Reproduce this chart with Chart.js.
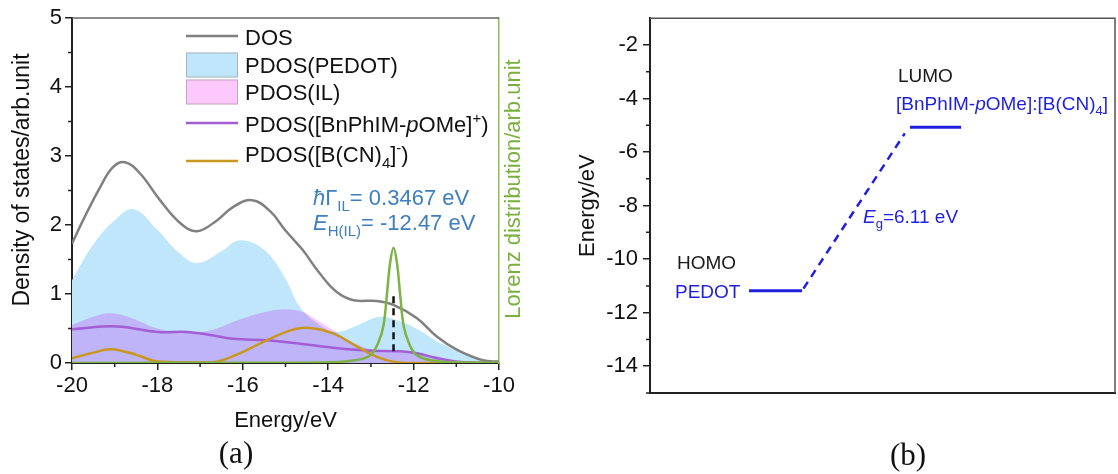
<!DOCTYPE html>
<html><head><meta charset="utf-8">
<script src="https://cdn.jsdelivr.net/npm/chart.js@4.4.1/dist/chart.umd.min.js"></script>
<style>
html,body{margin:0;padding:0;background:#fff;width:1118px;height:474px;overflow:hidden}
.w{position:absolute;top:0;height:474px}
.lab{position:absolute;font-family:"Liberation Serif","Times New Roman",serif;font-size:31px;color:#111;transform:translate(-50%,-50%);white-space:nowrap}
</style></head><body>
<div class="w" style="left:0;width:560px"><canvas id="ca"></canvas></div>
<div class="w" style="left:560px;width:558px"><canvas id="cb"></canvas></div>
<div class="lab" style="left:236px;top:453px">(a)</div>
<div class="lab" style="left:908px;top:455px">(b)</div>
<script>
// ---------- Panel (a) data ----------
const dosE = [-20, -19.74, -19.34, -19.04, -18.76, -18.41, -17.94, -17.47, -17.07, -16.6, -16.23, -15.78, -15.36, -15.0, -14.6, -14.2, -13.8, -13.4, -12.86, -12.46, -11.92, -11.45, -10.98, -10.38, -10];
const dosY = [1.73, 2.07, 2.55, 2.84, 2.91, 2.75, 2.36, 2.03, 1.91, 2.07, 2.26, 2.36, 2.2, 1.92, 1.64, 1.3, 1.03, 0.91, 0.90, 0.84, 0.65, 0.38, 0.19, 0.04, 0.02];
const pedotE = [-20, -19.5, -19.0, -18.55, -18.0, -17.5, -17.07, -16.5, -16.07, -15.5, -15.0, -14.66, -14.2, -13.8, -13.3, -12.79, -12.3, -11.8, -11.38, -10.68, -10.3, -10];
const pedotY = [1.2, 1.72, 2.07, 2.23, 1.93, 1.6, 1.45, 1.62, 1.78, 1.64, 1.22, 0.81, 0.55, 0.45, 0.55, 0.67, 0.6, 0.45, 0.29, 0.12, 0.04, 0.02];
const ilE = [-20, -19.5, -19.1, -18.6, -18, -17.5, -17, -16.6, -16.2, -15.6, -15.05, -14.6, -14.26, -13.89, -13.5, -13, -12.5, -12, -11.5, -11, -10.5, -10];
const ilY = [0.55, 0.67, 0.72, 0.65, 0.5, 0.46, 0.45, 0.5, 0.6, 0.72, 0.78, 0.74, 0.62, 0.48, 0.32, 0.2, 0.17, 0.15, 0.1, 0.04, 0.01, 0];
const catE = [-20, -18.95, -18, -17.3, -16.8, -16.23, -15.43, -14.66, -13.89, -13.1, -12.32, -11.92, -11.45, -10.98, -10.5, -10];
const catY = [0.49, 0.53, 0.45, 0.45, 0.41, 0.35, 0.33, 0.28, 0.22, 0.18, 0.17, 0.14, 0.07, 0.02, 0.005, 0];
const anE = [-20, -19.5, -19.1, -18.5, -18, -17, -16.6, -16.07, -15.43, -14.9, -14.5, -13.89, -13.33, -12.86, -12.48, -12, -10];
const anY = [0.07, 0.15, 0.2, 0.12, 0.02, 0.01, 0.02, 0.14, 0.33, 0.47, 0.51, 0.43, 0.24, 0.09, 0.02, 0, 0];
const lzE = [-20, -15, -14, -13.5, -13.2, -13.0, -12.83, -12.71, -12.63, -12.55, -12.47, -12.39, -12.31, -12.23, -12.11, -11.94, -11.6, -11.0, -10];
const lzY = [0, 0.005, 0.01, 0.03, 0.06, 0.12, 0.29, 0.53, 0.96, 1.45, 1.67, 1.45, 0.96, 0.53, 0.29, 0.12, 0.04, 0.01, 0.005];
const markE = [-12.47, -12.47];
const markY = [0.17, 1.0];
const aXTicks = [-20, -18, -16, -14, -12, -10];
const aXMinor = [-19, -17, -15, -13, -11];
const aYTicks = [0, 1, 2, 3, 4, 5];
const aYMinor = [0.5, 1.5, 2.5, 3.5, 4.5];

// ---------- Panel (b) data ----------
const homoX = [2.13, 3.27], homoY = [-11.18, -11.18];
const lumoX = [5.59, 6.69], lumoY = [-5.07, -5.07];
const gapX = [3.3, 5.48], gapY = [-11.1, -5.3];
const bYTicks = [-14, -12, -10, -8, -6, -4, -2];
const bYMinor = [-15, -13, -11, -9, -7, -5, -3];

const FONT = '"Liberation Sans", Arial, sans-serif';
const C = {dos:'#808080', pedot:'#c0e6fb', il:'#fdc8fb', cat:'#a35ed6', an:'#c9961e', lz:'#7cb342', note:'#3d7fbf', blue:'#1f1fe0', ink:'#111111'};

const pts = (xs, ys) => xs.map((x, i) => ({x, y: ys[i]}));

function rich(ctx, x, y, segs, size, color) {
  ctx.save(); ctx.fillStyle = color; ctx.textBaseline = 'alphabetic'; ctx.textAlign = 'left';
  for (const s of segs) {
    const sz = (s.sub || s.sup) ? Math.round(size * 0.68) : size;
    ctx.font = (s.it ? 'italic ' : '') + sz + 'px ' + FONT;
    const dy = s.sub ? size * 0.27 : (s.sup ? -size * 0.42 : 0);
    ctx.fillText(s.t, x, y + dy);
    x += ctx.measureText(s.t).width;
  }
  ctx.restore();
}
function minor(chart, id, vals, len) {
  const sc = chart.scales[id], a = chart.chartArea, ctx = chart.ctx;
  ctx.save(); ctx.strokeStyle = '#222'; ctx.lineWidth = 1.5; ctx.beginPath();
  vals.forEach(v => { const p = sc.getPixelForValue(v);
    if (sc.isHorizontal()) { ctx.moveTo(p, a.bottom); ctx.lineTo(p, a.bottom + len); }
    else { ctx.moveTo(a.left, p); ctx.lineTo(a.left - len, p); } });
  ctx.stroke(); ctx.restore();
}
function vtitle(ctx, x, y, text, size, color) {
  ctx.save();
  ctx.translate(x, y); ctx.rotate(-Math.PI / 2);
  ctx.fillStyle = color; ctx.font = size + 'px ' + FONT; ctx.textAlign = 'center'; ctx.textBaseline = 'middle';
  ctx.fillText(text, 0, 0);
  ctx.restore();
}

const legendItems = [
  {kind:'line', color:C.dos, segs:[{t:'DOS'}]},
  {kind:'box', color:C.pedot, segs:[{t:'PDOS(PEDOT)'}]},
  {kind:'box', color:C.il, segs:[{t:'PDOS(IL)'}]},
  {kind:'line', color:C.cat, segs:[{t:'PDOS([BnPhIM-'},{t:'p',it:true},{t:'OMe]'},{t:'+',sup:true},{t:')'}]},
  {kind:'line', color:C.an, segs:[{t:'PDOS([B(CN)'},{t:'4',sub:true},{t:']'},{t:'-',sup:true},{t:')'}]}
];
const legRows = [{base:45, mark:36}, {base:73, mark:65}, {base:100, mark:92}, {base:132, mark:123}, {base:162, mark:161}];

const IDX_PEDOT = 0, IDX_IL = 1;
const panelA = {
  id:'panelA',
  afterDatasetDraw(chart, args) {
    if (args.index === IDX_PEDOT) chart.ctx.globalCompositeOperation = 'multiply';
    if (args.index === IDX_IL) chart.ctx.globalCompositeOperation = 'source-over';
  },
  afterDraw(chart) {
    const ctx = chart.ctx, a = chart.chartArea;
    ctx.save();
    ctx.globalCompositeOperation = 'source-over';
    ctx.strokeStyle = '#666'; ctx.lineWidth = 1.5;
    ctx.beginPath(); ctx.moveTo(a.left, a.top); ctx.lineTo(a.right, a.top); ctx.stroke();
    ctx.restore();
    minor(chart, 'x', aXMinor, 4);
    minor(chart, 'y', aYMinor, 4);
    legendItems.forEach((it, i) => {
      const r = legRows[i];
      ctx.save();
      if (it.kind === 'line') {
        ctx.strokeStyle = it.color; ctx.lineWidth = 2.5;
        ctx.beginPath(); ctx.moveTo(186, r.mark); ctx.lineTo(238, r.mark); ctx.stroke();
      } else {
        ctx.fillStyle = it.color; ctx.fillRect(186, r.mark - 12.5, 52, 25);
        ctx.strokeStyle = 'rgba(150,150,150,0.6)'; ctx.lineWidth = 1;
        ctx.strokeRect(186.5, r.mark - 12, 51, 24);
      }
      ctx.restore();
      rich(ctx, 245, r.base, it.segs, 22, C.ink);
    });
    rich(ctx, 313, 205, [{t:'\u0127',it:true},{t:'\u0393'},{t:'IL',sub:true},{t:'= 0.3467 eV'}], 22, C.note);
    rich(ctx, 313, 230, [{t:'E',it:true},{t:'H(IL)',sub:true},{t:'= -12.47 eV'}], 22, C.note);
    vtitle(ctx, 23, 180, 'Density of states/arb.unit', 23, C.ink);
    vtitle(ctx, 514, 189, 'Lorenz distribution/arb.unit', 22, '#77b03c');
  }
};

const tickFont = {size:22, family:FONT};
const curve = {pointRadius:0, tension:0.4, cubicInterpolationMode:'default'};
new Chart(document.getElementById('ca'), {
  type:'line',
  data:{datasets:[
    Object.assign({label:'PDOS(PEDOT)', data:pts(pedotE, pedotY), fill:'origin', backgroundColor:C.pedot, borderWidth:0, order:10}, curve),
    Object.assign({label:'PDOS(IL)', data:pts(ilE, ilY), fill:'origin', backgroundColor:C.il, borderWidth:0, order:9}, curve),
    Object.assign({label:'cation', data:pts(catE, catY), fill:false, borderColor:C.cat, borderWidth:2.5, order:8}, curve),
    Object.assign({label:'anion', data:pts(anE, anY), fill:false, borderColor:C.an, borderWidth:2.5, order:7}, curve),
    Object.assign({label:'DOS', data:pts(dosE, dosY), fill:false, borderColor:C.dos, borderWidth:2.5, order:6}, curve),
    Object.assign({label:'Lorentz', data:pts(lzE, lzY), yAxisID:'y2', fill:false, borderColor:C.lz, borderWidth:2.5, order:5}, curve),
    {label:'mark', data:pts(markE, markY), fill:false, borderColor:'#111', borderWidth:2.5, borderDash:[7,5], pointRadius:0, order:4}
  ]},
  options:{
    responsive:true, maintainAspectRatio:false, animation:false, devicePixelRatio:1,
    layout:{padding:{top:18, right:0, left:0, bottom:0}},
    plugins:{legend:{display:false}, tooltip:{enabled:false}},
    scales:{
      x:{type:'linear', min:-20, max:-10,
        afterBuildTicks:s=>{s.ticks = aXTicks.map(v=>({value:v}));},
        afterFit:s=>{s.height = 111;},
        ticks:{font:tickFont, color:C.ink, padding:3, maxRotation:0},
        grid:{display:true, drawOnChartArea:false, tickLength:7, color:'#222', lineWidth:1.5},
        border:{display:true, color:'#222', width:2},
        title:{display:true, text:'Energy/eV', font:tickFont, color:C.ink, padding:{top:0, bottom:40}}},
      y:{type:'linear', min:0, max:5, position:'left',
        afterBuildTicks:s=>{s.ticks = aYTicks.map(v=>({value:v}));},
        afterFit:s=>{s.width = 72;},
        ticks:{font:tickFont, color:C.ink, padding:3},
        grid:{display:true, drawOnChartArea:false, tickLength:7, color:'#222', lineWidth:1.5},
        border:{display:true, color:'#222', width:2},
        title:{display:false}},
      y2:{type:'linear', min:0, max:5, position:'right',
        afterFit:s=>{s.width = 61;},
        ticks:{display:false}, grid:{display:false},
        border:{display:true, color:'#8cbf4f', width:1.5}}
    }
  },
  plugins:[panelA]
});

// ---------- Panel (b) ----------
const panelB = {
  id:'panelB',
  afterDraw(chart) {
    const ctx = chart.ctx, a = chart.chartArea;
    ctx.save(); ctx.strokeStyle = '#555'; ctx.lineWidth = 1.5;
    ctx.beginPath(); ctx.moveTo(a.left, a.top); ctx.lineTo(a.right, a.top); ctx.lineTo(a.right, a.bottom); ctx.stroke();
    ctx.restore();
    minor(chart, 'y', bYMinor, 4);
    const ox = -560;
    rich(ctx, 677 + ox, 269, [{t:'HOMO'}], 19, '#1a1a1a');
    rich(ctx, 675 + ox, 298, [{t:'PEDOT'}], 19, C.blue);
    rich(ctx, 898 + ox, 82, [{t:'LUMO'}], 19, '#1a1a1a');
    rich(ctx, 896 + ox, 110, [{t:'[BnPhIM-'},{t:'p',it:true},{t:'OMe]:[B(CN)'},{t:'4',sub:true},{t:']'}], 19, C.blue);
    rich(ctx, 863 + ox, 223, [{t:'E',it:true},{t:'g',sub:true},{t:'=6.11 eV'}], 19, C.blue);
  }
};
new Chart(document.getElementById('cb'), {
  type:'line',
  data:{datasets:[
    {label:'HOMO', data:pts(homoX, homoY), borderColor:C.blue, borderWidth:3, pointRadius:0, fill:false},
    {label:'LUMO', data:pts(lumoX, lumoY), borderColor:C.blue, borderWidth:3, pointRadius:0, fill:false},
    {label:'gap', data:pts(gapX, gapY), borderColor:C.blue, borderWidth:2.5, borderDash:[8,6], pointRadius:0, fill:false}
  ]},
  options:{
    responsive:true, maintainAspectRatio:false, animation:false, devicePixelRatio:1,
    layout:{padding:{top:17, right:3, left:0, bottom:0}},
    plugins:{legend:{display:false}, tooltip:{enabled:false}},
    scales:{
      x:{type:'linear', min:0, max:10,
        afterFit:s=>{s.height = 81;},
        ticks:{display:false}, grid:{display:false},
        border:{display:true, color:'#222', width:2}},
      y:{type:'linear', min:-15, max:-1,
        afterBuildTicks:s=>{s.ticks = bYTicks.map(v=>({value:v}));},
        afterFit:s=>{s.width = 90;},
        ticks:{font:tickFont, color:C.ink, padding:5},
        grid:{display:true, drawOnChartArea:false, tickLength:7, color:'#222', lineWidth:1.5},
        border:{display:true, color:'#222', width:2},
        title:{display:true, text:'Energy/eV', font:tickFont, color:C.ink, padding:{top:15, bottom:0}}}
    }
  },
  plugins:[panelB]
});
</script>
</body></html>
